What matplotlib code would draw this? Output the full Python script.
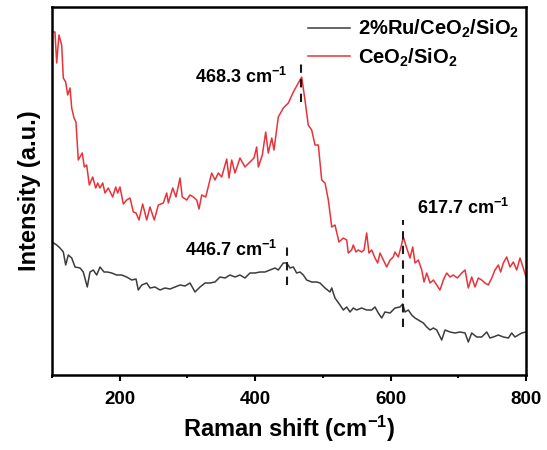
import matplotlib
matplotlib.use("Agg")
import matplotlib.pyplot as plt

plt.rcParams['font.family'] = ['Liberation Sans', 'DejaVu Sans']
plt.rcParams['font.weight'] = 'bold'
plt.rcParams['mathtext.fontset'] = 'custom'
plt.rcParams['mathtext.rm'] = 'Liberation Sans:bold'
plt.rcParams['mathtext.bf'] = 'Liberation Sans:bold'
plt.rcParams['mathtext.default'] = 'rm'

# CeO2/SiO2 (red)
red_x = [100, 104.4, 106.9, 110.3, 114.3, 116.7, 120.2, 123.2, 126.6, 129.1, 132.5, 135.4, 138.8, 144.7,
         147.7, 151.2, 155.1, 160.1, 164.5, 167.5, 170.9, 174.9, 178.3, 183.1, 189.6, 194.1, 197.0, 200.4,
         205.3, 210.3, 215.2, 220.1, 224.1, 228.5, 233.9, 239.9, 244.7, 251.1, 257.0, 264.4, 269.4, 271.8,
         278.3, 283.1, 289.0, 292.4, 298.9, 303.8, 308.7, 313.7, 317.1, 321.1, 327.0, 335.8, 340.7, 345.6,
         350.6, 358.0, 361.4, 365.4, 370.3, 377.6, 385.0, 392.4, 398.3, 402.3, 404.7, 410.6, 415.6, 419.4,
         424.5, 427.8, 434.2, 441.6, 449.0, 456.4, 463.7, 468.7, 473.6, 478.4, 483.5, 488.4, 493.3, 498.3,
         503.2, 508.1, 513.1, 517.9, 523.8, 530.2, 535.2, 537.5, 542.5, 544.9, 548.9, 552.3, 557.4, 560.8,
         564.7, 568.1, 572.1, 577.0, 581.0, 584.4, 589.3, 594.3, 599.2, 604.0, 606.5, 611.4, 615.4, 618.8,
         623.8, 628.7, 632.7, 636.1, 641.0, 646.0, 649.4, 653.4, 658.3, 663.2, 668.2, 673.0, 677.9, 682.9,
         687.8, 692.7, 698.6, 705.1, 710.0, 714.8, 719.8, 724.7, 729.6, 734.6, 739.5, 744.3, 749.4, 754.2,
         759.1, 762.6, 766.5, 771.5, 776.4, 781.3, 786.3, 791.1, 796.0, 800]
red_y = [343, 343, 312, 340, 330, 297, 293, 280, 287, 267, 257, 253, 215, 222,
         208, 210, 190, 198, 187, 192, 187, 192, 182, 187, 178, 188, 182, 188,
         171, 175, 177, 163, 162, 155, 171, 155, 168, 155, 170, 172, 182, 172,
         187, 178, 197, 178, 175, 180, 178, 175, 166, 180, 178, 202, 195, 202,
         198, 216, 197, 215, 202, 217, 208, 213, 217, 228, 208, 220, 243, 222,
         237, 225, 258, 267, 272, 283, 292, 298, 275, 250, 245, 230, 230, 195,
         192, 175, 148, 150, 133, 137, 135, 122, 125, 130, 123, 125, 123, 125,
         142, 122, 125, 117, 112, 122, 115, 108, 115, 118, 123, 118, 128, 138,
         127, 117, 128, 112, 115, 105, 93, 102, 92, 95, 90, 85, 95, 102,
         98, 100, 97, 102, 105, 87, 98, 88, 97, 95, 92, 90, 97, 105,
         110, 103, 112, 118, 108, 113, 105, 117, 107, 98]

# 2%Ru/CeO2/SiO2 (dark grey)
blk_x = [100, 106.9, 111.8, 116.7, 120.2, 124.1, 129.1, 134.0, 141.4, 146.2, 152.1, 156.1, 161.0, 166.0,
         170.9, 176.8, 181.7, 188.2, 195.5, 202.9, 210.3, 217.7, 224.1, 227.4, 232.5, 239.9, 244.7, 252.1,
         259.5, 266.9, 274.3, 281.6, 289.0, 296.4, 303.8, 311.2, 318.6, 326.0, 333.3, 340.7, 348.1, 355.5,
         362.9, 370.3, 377.6, 385.0, 392.4, 399.8, 407.2, 414.6, 422.0, 429.3, 434.2, 441.6, 446.6, 451.5,
         456.4, 461.3, 466.2, 471.1, 476.1, 483.5, 490.9, 495.8, 503.2, 510.5, 513.1, 517.9, 525.3, 530.2,
         535.2, 540.1, 545.0, 549.9, 557.3, 564.7, 572.1, 577.0, 581.9, 586.9, 591.7, 599.2, 606.5, 613.9,
         617.9, 621.3, 626.2, 631.2, 636.1, 641.0, 648.4, 653.4, 658.3, 663.2, 668.2, 675.5, 680.4, 687.8,
         695.2, 702.6, 710.0, 714.8, 719.8, 727.2, 734.6, 742.0, 746.8, 751.7, 759.1, 766.5, 773.9, 778.9,
         783.7, 788.6, 793.6, 800]
blk_y = [133, 130, 127, 123, 110, 120, 117, 108, 107, 103, 88, 103, 105, 100,
         108, 103, 103, 102, 100, 100, 98, 95, 96, 85, 90, 92, 87, 88,
         85, 87, 86, 88, 90, 89, 92, 83, 88, 92, 92, 93, 98, 97,
         100, 98, 100, 97, 102, 102, 103, 103, 105, 107, 105, 112, 112, 107,
         108, 102, 103, 100, 95, 93, 93, 92, 87, 83, 87, 77, 70, 65,
         68, 63, 67, 65, 67, 65, 65, 68, 62, 57, 63, 62, 67, 68,
         71, 63, 65, 60, 57, 55, 52, 48, 45, 47, 45, 35, 45, 43,
         42, 43, 42, 33, 42, 38, 38, 43, 37, 38, 40, 38, 37, 42,
         38, 40, 42, 43]

peak_pos = [468.3, 446.7, 617.7]
peak_lo = [273, 90, 48]
peak_hi = [313, 132, 155]
peak_labels = ['468.3 cm$^{-1}$', '446.7 cm$^{-1}$', '617.7 cm$^{-1}$']
label_x = [447, 432, 639]
label_y = [298, 125, 167]
label_ha = ['right', 'right', 'left']

series_names = ['2%Ru/CeO$_{2}$/SiO$_{2}$', 'CeO$_{2}$/SiO$_{2}$']
series_colors = ['#3c3c3c', '#e8333a']

fig = plt.figure(figsize=(5.47, 4.5), dpi=100)
ax = fig.add_axes([52/547, 75/450, 474/547, 368/450])

ax.plot(blk_x, blk_y, color=series_colors[0], lw=1.1, label=series_names[0])
ax.plot(red_x, red_y, color=series_colors[1], lw=1.1, label=series_names[1])

for p, lo, hi in zip(peak_pos, peak_lo, peak_hi):
    ax.plot([p, p], [lo, hi], color='#1a1a1a', lw=1.5, linestyle=(0, (4, 3)))
for t, x, y, ha in zip(peak_labels, label_x, label_y, label_ha):
    ax.text(x, y, t, ha=ha, va='center', fontsize=13, fontweight='bold')

ax.set_xlim(100, 800)
ax.set_ylim(0, 368)
ax.set_yticks([])
ax.set_xticks([200, 400, 600, 800])
ax.set_xticks([100, 300, 500, 700], minor=True)
ax.tick_params(axis='x', which='major', direction='out', length=4, width=1.5, labelsize=13.5, pad=7.5)
ax.tick_params(axis='x', which='minor', direction='out', length=2.5, width=1.5)
for lab in ax.get_xticklabels():
    lab.set_fontweight('bold')
for s in ax.spines.values():
    s.set_linewidth(1.8)

ax.set_xlabel('Raman shift (cm$^{-1}$)', fontsize=17, fontweight='bold', labelpad=4)
ax.set_ylabel('Intensity (a.u.)', fontsize=17, fontweight='bold', labelpad=8)

ax.legend(loc='upper right', bbox_to_anchor=(0.986, 0.970), frameon=False, fontsize=14.5,
          handlelength=2.1, handletextpad=0.4, labelspacing=0.3, borderpad=0, borderaxespad=0)

fig.savefig('out.png', dpi=100)
